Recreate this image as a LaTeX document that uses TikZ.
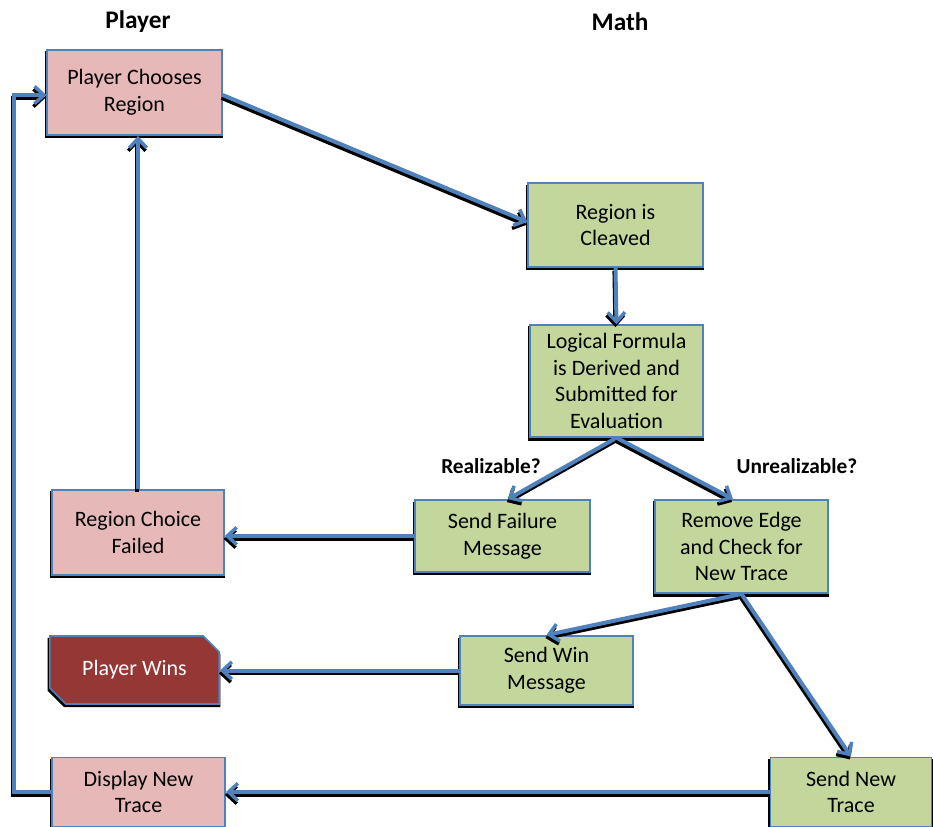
\documentclass[tikz,border=0pt]{standalone}
\usepackage{fontspec}
\setmainfont{Carlito}
\usetikzlibrary{arrows.meta,shapes.misc,shadows}
\definecolor{edgeblue}{HTML}{4F81BD}
\definecolor{playerpink}{HTML}{E6B9B8}
\definecolor{mathgreen}{HTML}{C3D69B}
\definecolor{winred}{HTML}{953735}
\tikzset{
  box/.style={draw=edgeblue, line width=1.2pt, minimum width=#1, align=center,
    font=\fontsize{16.5}{20}\selectfont, inner sep=0pt,
    general shadow={fill=black, shadow yshift=-1.8pt, shadow xshift=-0.3pt, shadow scale=1.02}},
  playerbox/.style={box=#1, fill=playerpink},
  mathbox/.style={box=#1, fill=mathgreen},
  header/.style={font=\fontsize{19}{22}\selectfont\bfseries},
  guard/.style={font=\fontsize{16}{20}\selectfont\bfseries},
  conn/.style={draw=edgeblue, line width=3pt,
    -{Straight Barb[length=7pt,width=13pt,line width=2.6pt]},
    preaction={draw=black, line width=3pt, transform canvas={xshift=-0.8pt, yshift=-2.2pt}}},
}
\begin{document}
\begin{tikzpicture}[x=0.75pt, y=-0.75pt]
\useasboundingbox (0,0) rectangle (933,827);

% column headings
\node[header] (hplayer) at (138,22) {Player};
\node[header] (hmath) at (620,22) {Math};

% player column
\node[playerbox=131pt, minimum height=64pt] (choose) at (134.5,92.5) {Player Chooses\\Region};
\node[playerbox=129pt, minimum height=64pt] (failed) at (138,532.5) {Region Choice\\Failed};
\node[box=127pt, fill=winred, text=white, minimum height=51pt,
      chamfered rectangle, chamfered rectangle corners={north east, south west},
      chamfered rectangle xsep=6pt, chamfered rectangle ysep=6pt] (wins) at (134.5,670) {Player Wins};
\node[playerbox=130pt, minimum height=52pt] (display) at (138.5,792) {Display New\\Trace};

% math column
\node[mathbox=131pt, minimum height=63pt] (cleave) at (615.5,225) {Region is\\Cleaved};
\node[mathbox=130pt, minimum height=84pt] (formula) at (616.5,381) {Logical Formula\\is Derived and\\Submitted for\\Evaluation};
\node[mathbox=131pt, minimum height=54pt] (sendfail) at (502.5,536) {Send Failure\\Message};
\node[mathbox=130pt, minimum height=70pt] (remove) at (741.5,546.5) {Remove Edge\\and Check for\\New Trace};
\node[mathbox=130pt, minimum height=52pt] (sendwin) at (546.5,670.5) {Send Win\\Message};
\node[mathbox=121pt, minimum height=52pt] (sendtrace) at (851,792) {Send New\\Trace};

% branch guards
\node[guard] (lreal) at (491,466) {Realizable?};
\node[guard] (lunreal) at (797,466) {Unrealizable?};

% connectors
\draw[conn] (choose.east |- 0,95) -- (cleave.west |- 0,222);
\draw[conn] (cleave.south) -- (formula.north);
\draw[conn] (formula.south) -- (sendfail.north -| 508,0);
\draw[conn] (formula.south) -- (remove.north -| 733,0);
\draw[conn] (sendfail.west) -- (failed.east |- sendfail.west);
\draw[conn] (failed.north) -- (choose.south -| failed.north);
\draw[conn] (remove.south) -- (sendwin.north);
\draw[conn] (remove.south) -- (sendtrace.north);
\draw[conn] (sendwin.west) -- (wins.east |- sendwin.west);
\draw[conn] (sendtrace.west) -- (display.east);
\draw[conn] (display.west) -- (14,792) -- (14,95) -- (choose.west |- 0,95);
\end{tikzpicture}
\end{document}
